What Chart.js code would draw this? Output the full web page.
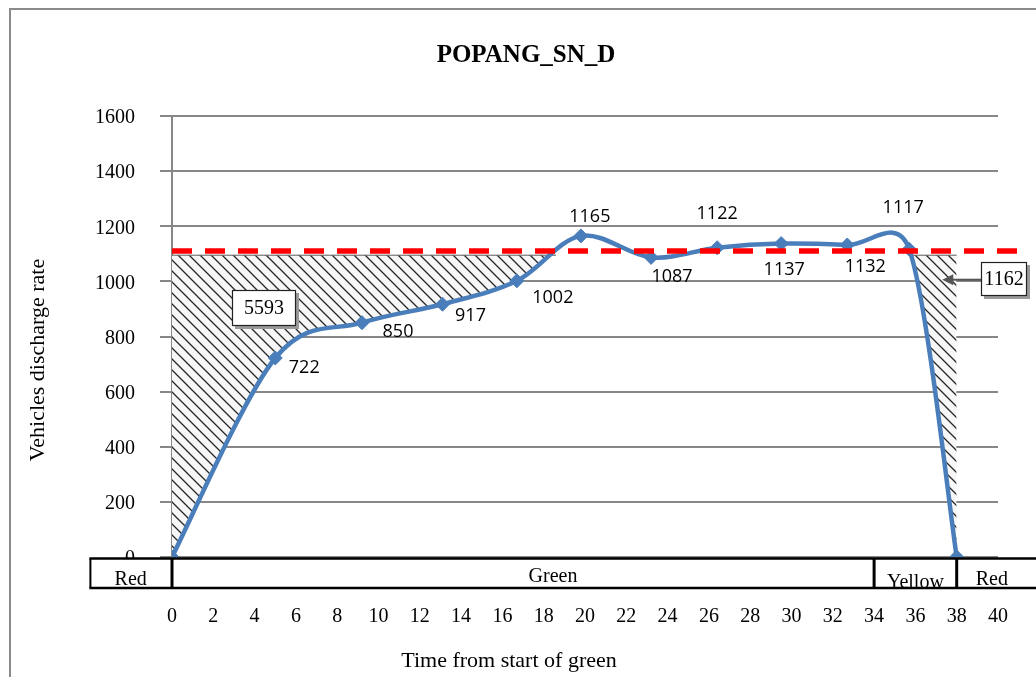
<!DOCTYPE html>
<html>
<head>
<meta charset="utf-8">
<title>POPANG_SN_D</title>
<script src="https://cdn.jsdelivr.net/npm/chart.js@4.4.1/dist/chart.umd.min.js"></script>
<style>
  html, body { margin: 0; padding: 0; background: #fff; }
  #wrap { width: 1036px; height: 677px; }
</style>
</head>
<body>
<div id="wrap"><canvas id="chart" width="1036" height="677"></canvas></div>
<script>
// Discharge profile: time from start of green (s) and vehicles discharge rate
const sampleTimes    = [0, 5.0, 9.2, 13.1, 16.7, 19.8, 23.2, 26.4, 29.5, 32.7, 35.7, 38];
const dischargeRates = [0, 722, 850, 917, 1002, 1165, 1087, 1122, 1137, 1132, 1117, 0];

// Saturation level drawn as the dashed red line
const saturationRate = 1110;
const saturationSpan = [0, 41.2];

// Hatched lost areas under the capacity level
const areaLevel     = 1095;
const startLossSpan = [0, 18.6];
const endLossSpan   = [35.7, 38];
const areaValues    = ['5593', '1162'];

// Signal phases along the time axis
const phaseNames  = ['Red', 'Green', 'Yellow', 'Red'];
const phaseStarts = [-4, 0, 34, 38];
const phaseEnd    = 42;

// Axis ticks
const rateTicks = [0, 200, 400, 600, 800, 1000, 1200, 1400, 1600];
const timeTicks = [0, 2, 4, 6, 8, 10, 12, 14, 16, 18, 20, 22, 24, 26, 28, 30, 32, 34, 36, 38, 40];

// ---- presentation ----
const SERIF = "'Liberation Serif', 'Times New Roman', serif";
const SANS  = "'Open Sans', 'Noto Sans', sans-serif";
const BLUE  = '#4a7ebb';
const GRID  = '#878787';

// value label offsets (px) from each marker, null = no label
const labelOffsets = [null, [29, 10], [36, 9], [28, 12], [36, 17], [9, -19],
                      [21, 19], [0, -34], [3, 26], [18, 22], [-6, -41], null];
// phase label anchors (time) and baselines (px below plot bottom)
const phaseLabelAt = [-2, 18.45, 36, 39.7];
const phaseLabelBase = [28, 25, 31, 28];
// annotation boxes: centre in data units, size in px, optional arrow tip in data units
const areaBoxes = [
  { x: 4.45, y: 905, w: 64, h: 36, tip: null },
  { x: 40.27, y: 1010, w: 46, h: 34, tip: { x: 37.3, y: 1006 } }
];

function makeHatch() {
  const s = 11;
  const c = document.createElement('canvas');
  c.width = s; c.height = s;
  const g = c.getContext('2d');
  g.fillStyle = '#f7f7f7';
  g.fillRect(0, 0, s, s);
  g.strokeStyle = '#262626';
  g.lineWidth = 1.3;
  g.beginPath();
  for (const k of [-s, 0, s]) { g.moveTo(k - 1, -1); g.lineTo(k + s + 1, s + 1); }
  g.stroke();
  return g.createPattern(c, 'repeat');
}
const hatch = makeHatch();

const toPoints = (xs, ys) => xs.map((t, i) => ({ x: t, y: ys[i] }));

// Spreadsheet-style smoothing: uniform Catmull-Rom control points (1/6 of the
// neighbour chord), each handle kept within 60% of its own segment length.
const smoothCurve = {
  id: 'smoothCurve',
  beforeDatasetsDraw(chart) {
    const meta = chart.getDatasetMeta(1);
    meta.dataset.updateControlPoints(chart.chartArea, 'x');
    const pts = meta.data, n = pts.length;
    const dist = (a, b) => Math.hypot(b.x - a.x, b.y - a.y);
    for (let i = 0; i < n; i++) {
      const p = pts[i], prev = pts[Math.max(i - 1, 0)], next = pts[Math.min(i + 1, n - 1)];
      const dx = (next.x - prev.x) / 6, dy = (next.y - prev.y) / 6;
      const len = Math.hypot(dx, dy) || 1;
      const kIn = Math.min(1, 0.6 * dist(prev, p) / len);
      const kOut = Math.min(1, 0.6 * dist(p, next) / len);
      p.cp1x = p.x - dx * kIn; p.cp1y = p.y - dy * kIn;
      p.cp2x = p.x + dx * kOut; p.cp2y = p.y + dy * kOut;
    }
  }
};

const decorations = {
  id: 'decorations',
  beforeDraw(chart) {
    const ctx = chart.ctx;
    ctx.save();
    ctx.fillStyle = '#fff';
    ctx.fillRect(0, 0, chart.width, chart.height);
    ctx.restore();
  },
  afterDraw(chart) {
    const { ctx, chartArea: a, scales: { x, y } } = chart;
    ctx.save();

    // outer frame (left and top edges)
    ctx.strokeStyle = '#8a8a8a';
    ctx.lineWidth = 2;
    ctx.beginPath();
    ctx.moveTo(10, chart.height);
    ctx.lineTo(10, 9);
    ctx.lineTo(chart.width, 9);
    ctx.stroke();

    // value labels on the discharge curve
    const meta = chart.getDatasetMeta(1);
    ctx.font = `18px ${SANS}`;
    ctx.fillStyle = '#000';
    ctx.textAlign = 'center';
    ctx.textBaseline = 'middle';
    meta.data.forEach((pt, i) => {
      const off = labelOffsets[i];
      if (!off) return;
      ctx.fillText(String(dischargeRates[i]), pt.x + off[0], pt.y + off[1]);
    });

    // area value boxes
    areaBoxes.forEach((b, i) => {
      const cx = x.getPixelForValue(b.x), cy = y.getPixelForValue(b.y);
      const l = Math.round(cx - b.w / 2), t = Math.round(cy - b.h / 2);
      if (b.tip) {
        const tx = x.getPixelForValue(b.tip.x), ty = y.getPixelForValue(b.tip.y);
        ctx.strokeStyle = '#555';
        ctx.fillStyle = '#555';
        ctx.lineWidth = 2;
        ctx.beginPath();
        ctx.moveTo(l, ty);
        ctx.lineTo(tx + 9, ty);
        ctx.stroke();
        ctx.beginPath();
        ctx.moveTo(tx, ty);
        ctx.lineTo(tx + 11, ty - 5.5);
        ctx.lineTo(tx + 11, ty + 5.5);
        ctx.closePath();
        ctx.fill();
      }
      ctx.fillStyle = '#9a9a9a';
      ctx.fillRect(l + 3, t + 3, b.w, b.h);
      ctx.fillStyle = '#fff';
      ctx.fillRect(l, t, b.w, b.h);
      ctx.strokeStyle = '#222';
      ctx.lineWidth = 1.2;
      ctx.strokeRect(l + 0.5, t + 0.5, b.w - 1, b.h - 1);
      ctx.fillStyle = '#000';
      ctx.font = `20px ${SERIF}`;
      ctx.textAlign = 'center';
      ctx.textBaseline = 'middle';
      ctx.fillText(areaValues[i], l + b.w / 2, t + b.h / 2 + 1);
    });

    // signal phase bar below the plot
    const barTop = a.bottom + 1.5, barH = 29.5;
    const px = v => x.getPixelForValue(v);
    const left = px(phaseStarts[0]), right = Math.min(px(phaseEnd), chart.width);
    ctx.fillStyle = '#fff';
    ctx.fillRect(left, barTop, right - left, barH);
    ctx.save();
    ctx.beginPath();
    ctx.rect(left, barTop, right - left, barH);
    ctx.clip();
    ctx.fillStyle = '#000';
    ctx.font = `20px ${SERIF}`;
    ctx.textAlign = 'center';
    ctx.textBaseline = 'alphabetic';
    phaseNames.forEach((n, i) => {
      ctx.fillText(n, px(phaseLabelAt[i]), a.bottom + phaseLabelBase[i]);
    });
    ctx.restore();
    ctx.strokeStyle = '#000';
    ctx.lineWidth = 2.5;
    ctx.beginPath();
    ctx.moveTo(left, barTop); ctx.lineTo(chart.width, barTop);
    ctx.moveTo(left, barTop + barH); ctx.lineTo(chart.width, barTop + barH);
    ctx.stroke();
    ctx.lineWidth = 2;
    ctx.beginPath();
    ctx.moveTo(left + 1, barTop); ctx.lineTo(left + 1, barTop + barH);
    ctx.stroke();
    ctx.lineWidth = 3;
    ctx.beginPath();
    phaseStarts.slice(1).forEach(s => {
      const xx = px(s);
      ctx.moveTo(xx, barTop); ctx.lineTo(xx, barTop + barH);
    });
    ctx.stroke();

    // chart and axis titles
    ctx.fillStyle = '#000';
    ctx.textAlign = 'center';
    ctx.textBaseline = 'alphabetic';
    ctx.font = `bold 25px ${SERIF}`;
    ctx.fillText('POPANG_SN_D', 526, 62);
    ctx.font = `22px ${SERIF}`;
    ctx.textBaseline = 'middle';
    ctx.fillText('Time from start of green', 509, 661);
    ctx.translate(38, 360);
    ctx.rotate(-Math.PI / 2);
    ctx.fillText('Vehicles discharge rate', 0, 0);
    ctx.restore();
  }
};

const areaStyle = {
  type: 'line',
  borderColor: '#5a5a5a',
  borderWidth: 1,
  pointRadius: 0,
  tension: 0,
  fill: { target: 1, above: hatch, below: 'rgba(0,0,0,0)' },
  order: 2
};

new Chart(document.getElementById('chart'), {
  type: 'line',
  data: {
    datasets: [
      {
        label: 'Saturation',
        data: toPoints(saturationSpan, saturationSpan.map(() => saturationRate)),
        borderColor: '#ff0000',
        borderWidth: 5.5,
        borderDash: [20, 13],
        pointRadius: 0,
        tension: 0,
        fill: false,
        clip: false,
        order: 0
      },
      {
        label: 'Discharge rate',
        data: toPoints(sampleTimes, dischargeRates),
        borderColor: BLUE,
        backgroundColor: BLUE,
        borderWidth: 4.5,
        tension: 0.4,
        pointStyle: 'rectRot',
        pointRadius: 7,
        pointBorderWidth: 1,
        pointBackgroundColor: BLUE,
        pointBorderColor: BLUE,
        fill: false,
        order: 1
      },
      Object.assign({ label: 'Start loss',
        data: toPoints(startLossSpan, startLossSpan.map(() => areaLevel)) }, areaStyle),
      Object.assign({ label: 'End loss',
        data: toPoints(endLossSpan, endLossSpan.map(() => areaLevel)) }, areaStyle)
    ]
  },
  options: {
    responsive: false,
    animation: false,
    devicePixelRatio: 1,
    layout: { padding: { top: 116, right: 38, bottom: 0, left: 0 } },
    plugins: {
      legend: { display: false },
      tooltip: { enabled: false },
      title: { display: false }
    },
    scales: {
      x: {
        type: 'linear',
        min: 0,
        max: 40,
        afterBuildTicks: s => { s.ticks = timeTicks.map(v => ({ value: v })); },
        afterFit: s => { s.height = 120; s.paddingLeft = 0; s.paddingRight = 0; },
        grid: { display: false, drawTicks: false },
        border: { display: false },
        ticks: {
          padding: 48,
          maxRotation: 0,
          autoSkip: false,
          color: '#000',
          font: { family: SERIF, size: 20 },
          callback: v => String(v)
        }
      },
      y: {
        min: 0,
        max: 1600,
        afterBuildTicks: s => { s.ticks = rateTicks.map(v => ({ value: v })); },
        afterFit: s => { s.width = 172; s.paddingTop = 0; s.paddingBottom = 0; },
        grid: { color: GRID, lineWidth: 2, tickLength: 12, tickColor: GRID },
        border: { display: true, color: GRID, width: 2 },
        ticks: {
          padding: 25,
          labelOffset: 2,
          color: '#000',
          font: { family: SERIF, size: 20 },
          callback: v => String(v)
        }
      }
    }
  },
  plugins: [smoothCurve, decorations]
});
</script>
</body>
</html>
